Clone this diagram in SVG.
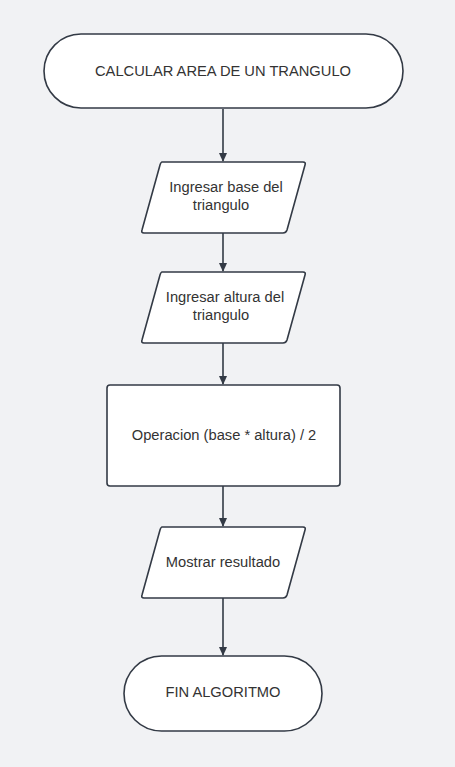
<svg xmlns="http://www.w3.org/2000/svg" width="455" height="767" viewBox="0 0 455 767">
<style>
.s{fill:#ffffff;stroke:#333a45;stroke-width:1.6}
.t{font-family:"Liberation Sans",Arial,sans-serif;font-size:14.7px;fill:#333333;text-anchor:middle}
.c{stroke:#333a45;stroke-width:1.6;fill:none;marker-end:url(#a)}
</style>
<defs>
<marker id="a" markerWidth="10" markerHeight="10" refX="8" refY="5" orient="auto" markerUnits="userSpaceOnUse">
<path d="M0,1 L9,5 L0,9 Z" fill="#333a45"/>
</marker>
</defs>
<rect width="455" height="767" fill="#f1f2f4"/>
<g id="connectors">
<line class="c" x1="223" y1="109" x2="223" y2="161"/>
<line class="c" x1="223" y1="233" x2="223" y2="271"/>
<line class="c" x1="223" y1="343" x2="223" y2="384"/>
<line class="c" x1="223" y1="486" x2="223" y2="526"/>
<line class="c" x1="223" y1="598" x2="223" y2="655"/>
</g>
<g id="start">
<rect class="s" x="44" y="34" width="359" height="74" rx="37"/>
<text class="t" x="223" y="76">CALCULAR AREA DE UN TRANGULO</text>
</g>
<g id="input-base">
<path class="s" d="M162,162 L303,162 Q306,162 305,165 L287,230 Q286,233 283,233 L144,233 Q141,233 142,230 L160,165 Q161,162 162,162 Z"/>
<text class="t" x="226" y="192">Ingresar base del</text>
<text class="t" x="221" y="210">triangulo</text>
</g>
<g id="input-altura">
<path class="s" d="M162,272 L303,272 Q306,272 305,275 L287,340 Q286,343 283,343 L144,343 Q141,343 142,340 L160,275 Q161,272 162,272 Z"/>
<text class="t" x="225" y="302">Ingresar altura del</text>
<text class="t" x="221" y="320">triangulo</text>
</g>
<g id="operacion">
<rect class="s" x="107" y="385" width="233" height="101" rx="3"/>
<text class="t" x="224" y="440">Operacion (base * altura) / 2</text>
</g>
<g id="mostrar">
<path class="s" d="M162,527 L303,527 Q306,527 305,530 L287,595 Q286,598 283,598 L144,598 Q141,598 142,595 L160,530 Q161,527 162,527 Z"/>
<text class="t" x="223" y="567">Mostrar resultado</text>
</g>
<g id="fin">
<rect class="s" x="124" y="656" width="198" height="75" rx="37.5"/>
<text class="t" x="223" y="697">FIN ALGORITMO</text>
</g>
</svg>
